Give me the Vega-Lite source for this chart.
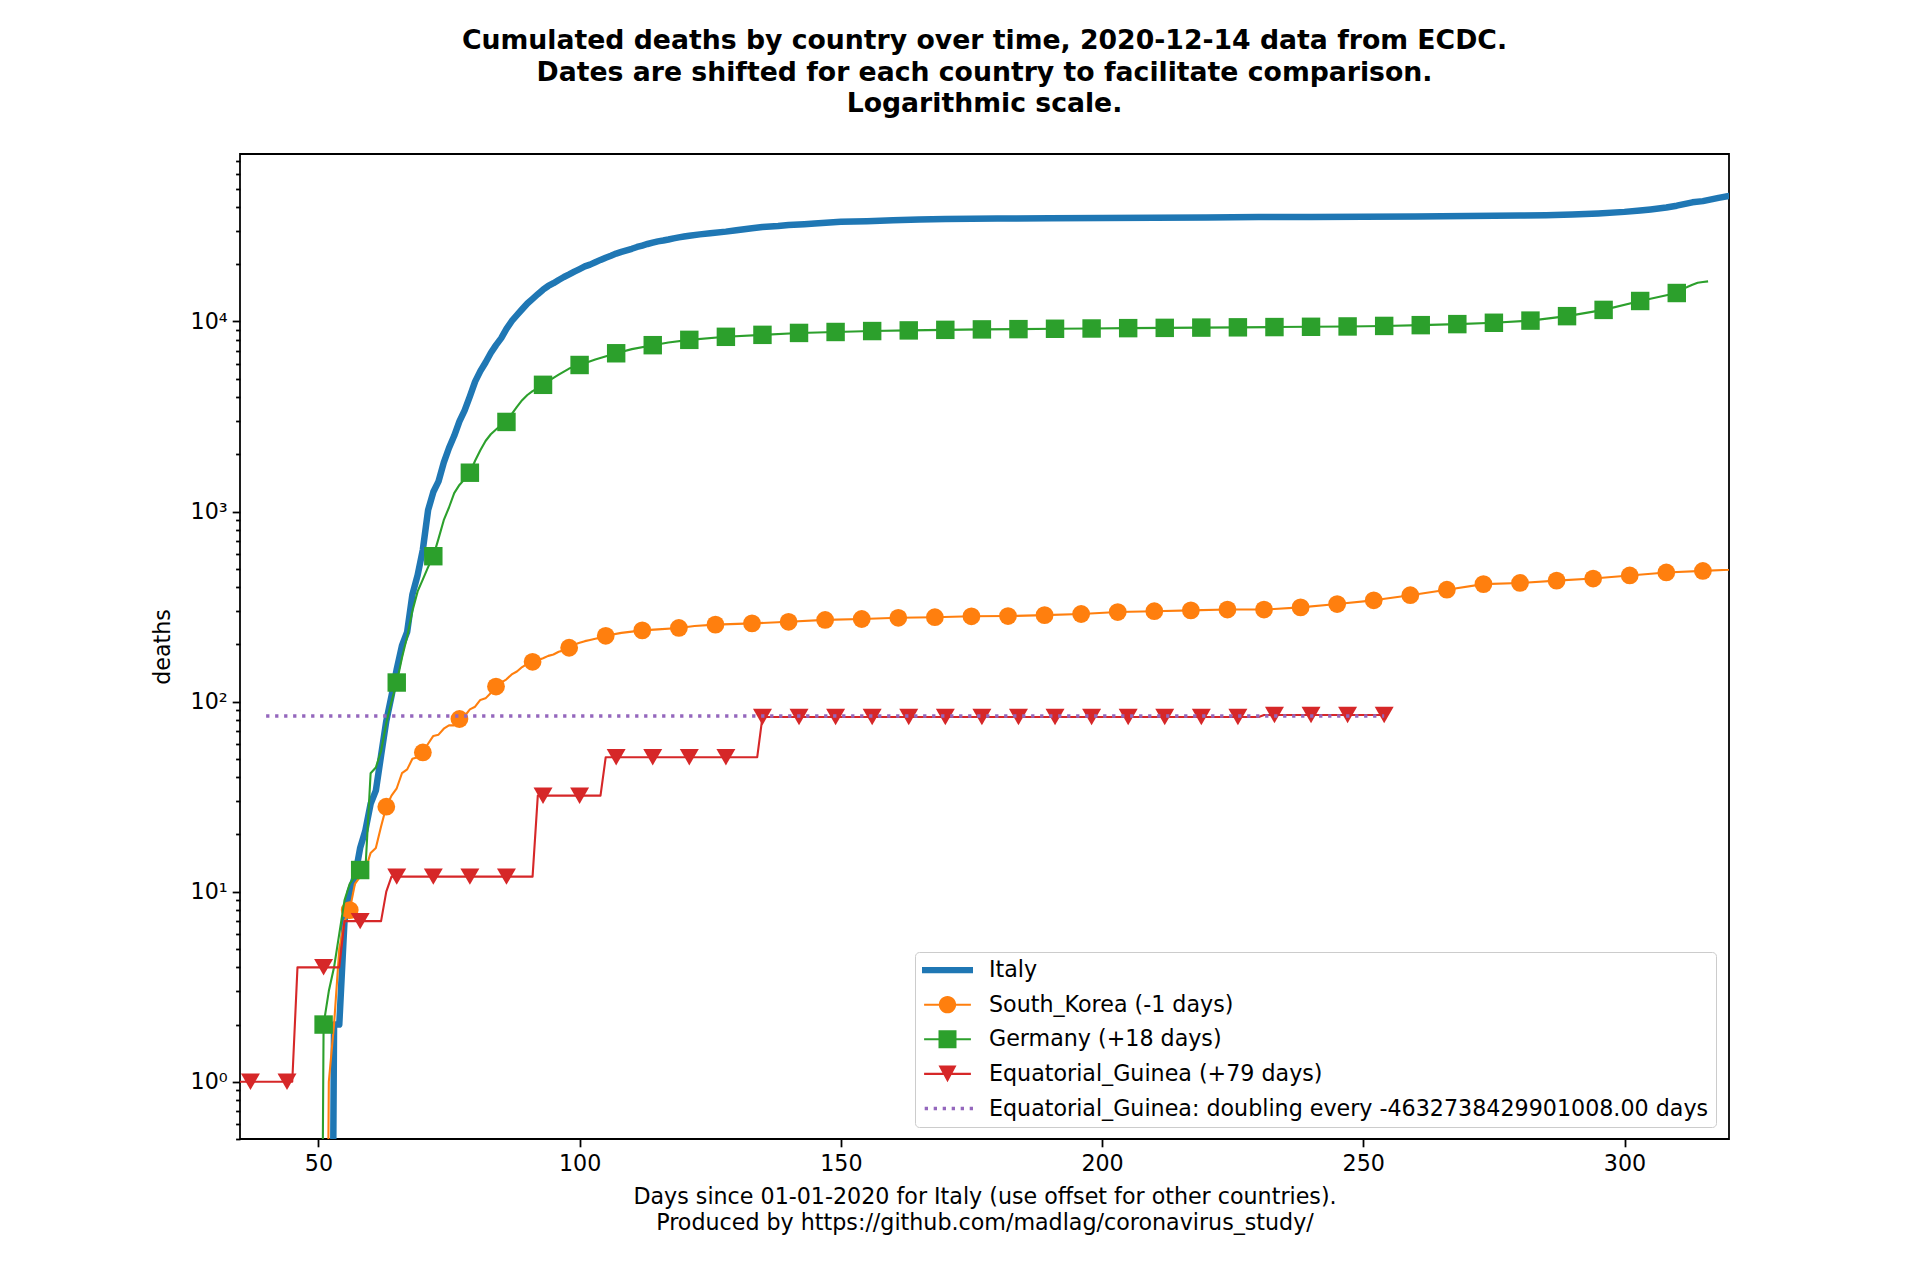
{
  "$schema": "https://vega.github.io/schema/vega-lite/v6.json",
  "description": "Cumulated deaths by country over time, log scale, ECDC data",
  "width": 1489,
  "height": 985,
  "autosize": {"type": "none"},
  "padding": {"left": 240, "top": 154, "right": 191, "bottom": 141},
  "background": "white",
  "title": {
    "text": [
      "Cumulated deaths by country over time, 2020-12-14 data from ECDC.",
      "Dates are shifted for each country to facilitate comparison.",
      "Logarithmic scale."
    ],
    "font": "DejaVu Sans",
    "fontSize": 26.7,
    "fontWeight": "bold",
    "color": "black",
    "anchor": "middle",
    "frame": "group",
    "lineHeight": 31.5,
    "offset": 32
  },
  "data": {
    "values": [
      {"series": "Italy", "day": 52, "deaths": 0.0001},
      {"series": "Italy", "day": 53, "deaths": 2},
      {"series": "Italy", "day": 54, "deaths": 2},
      {"series": "Italy", "day": 55, "deaths": 7},
      {"series": "Italy", "day": 56, "deaths": 10},
      {"series": "Italy", "day": 57, "deaths": 12},
      {"series": "Italy", "day": 58, "deaths": 17},
      {"series": "Italy", "day": 59, "deaths": 21},
      {"series": "Italy", "day": 60, "deaths": 29},
      {"series": "Italy", "day": 61, "deaths": 34},
      {"series": "Italy", "day": 62, "deaths": 52},
      {"series": "Italy", "day": 63, "deaths": 79},
      {"series": "Italy", "day": 64, "deaths": 107},
      {"series": "Italy", "day": 65, "deaths": 148},
      {"series": "Italy", "day": 66, "deaths": 197},
      {"series": "Italy", "day": 67, "deaths": 233},
      {"series": "Italy", "day": 68, "deaths": 366},
      {"series": "Italy", "day": 69, "deaths": 463},
      {"series": "Italy", "day": 70, "deaths": 631},
      {"series": "Italy", "day": 71, "deaths": 1016},
      {"series": "Italy", "day": 72, "deaths": 1266},
      {"series": "Italy", "day": 73, "deaths": 1441},
      {"series": "Italy", "day": 74, "deaths": 1809},
      {"series": "Italy", "day": 75, "deaths": 2158},
      {"series": "Italy", "day": 76, "deaths": 2503},
      {"series": "Italy", "day": 77, "deaths": 2978},
      {"series": "Italy", "day": 78, "deaths": 3405},
      {"series": "Italy", "day": 79, "deaths": 4032},
      {"series": "Italy", "day": 80, "deaths": 4825},
      {"series": "Italy", "day": 81, "deaths": 5476},
      {"series": "Italy", "day": 82, "deaths": 6077},
      {"series": "Italy", "day": 83, "deaths": 6820},
      {"series": "Italy", "day": 84, "deaths": 7503},
      {"series": "Italy", "day": 85, "deaths": 8165},
      {"series": "Italy", "day": 86, "deaths": 9134},
      {"series": "Italy", "day": 87, "deaths": 10023},
      {"series": "Italy", "day": 88, "deaths": 10779},
      {"series": "Italy", "day": 89, "deaths": 11591},
      {"series": "Italy", "day": 90, "deaths": 12428},
      {"series": "Italy", "day": 91, "deaths": 13155},
      {"series": "Italy", "day": 92, "deaths": 13915},
      {"series": "Italy", "day": 93, "deaths": 14681},
      {"series": "Italy", "day": 94, "deaths": 15362},
      {"series": "Italy", "day": 95, "deaths": 15887},
      {"series": "Italy", "day": 96, "deaths": 16523},
      {"series": "Italy", "day": 97, "deaths": 17127},
      {"series": "Italy", "day": 98, "deaths": 17669},
      {"series": "Italy", "day": 99, "deaths": 18279},
      {"series": "Italy", "day": 100, "deaths": 18849},
      {"series": "Italy", "day": 101, "deaths": 19468},
      {"series": "Italy", "day": 102, "deaths": 19899},
      {"series": "Italy", "day": 103, "deaths": 20465},
      {"series": "Italy", "day": 104, "deaths": 21067},
      {"series": "Italy", "day": 105, "deaths": 21645},
      {"series": "Italy", "day": 106, "deaths": 22170},
      {"series": "Italy", "day": 107, "deaths": 22745},
      {"series": "Italy", "day": 108, "deaths": 23227},
      {"series": "Italy", "day": 109, "deaths": 23660},
      {"series": "Italy", "day": 110, "deaths": 24114},
      {"series": "Italy", "day": 111, "deaths": 24648},
      {"series": "Italy", "day": 112, "deaths": 25085},
      {"series": "Italy", "day": 113, "deaths": 25549},
      {"series": "Italy", "day": 114, "deaths": 25969},
      {"series": "Italy", "day": 115, "deaths": 26384},
      {"series": "Italy", "day": 116, "deaths": 26644},
      {"series": "Italy", "day": 117, "deaths": 26977},
      {"series": "Italy", "day": 118, "deaths": 27359},
      {"series": "Italy", "day": 119, "deaths": 27682},
      {"series": "Italy", "day": 120, "deaths": 27967},
      {"series": "Italy", "day": 121, "deaths": 28236},
      {"series": "Italy", "day": 123, "deaths": 28710},
      {"series": "Italy", "day": 125, "deaths": 29079},
      {"series": "Italy", "day": 128, "deaths": 29684},
      {"series": "Italy", "day": 130, "deaths": 30201},
      {"series": "Italy", "day": 133, "deaths": 30911},
      {"series": "Italy", "day": 135, "deaths": 31368},
      {"series": "Italy", "day": 138, "deaths": 31763},
      {"series": "Italy", "day": 140, "deaths": 32169},
      {"series": "Italy", "day": 143, "deaths": 32486},
      {"series": "Italy", "day": 145, "deaths": 32785},
      {"series": "Italy", "day": 150, "deaths": 33415},
      {"series": "Italy", "day": 155, "deaths": 33689},
      {"series": "Italy", "day": 160, "deaths": 34043},
      {"series": "Italy", "day": 165, "deaths": 34405},
      {"series": "Italy", "day": 170, "deaths": 34561},
      {"series": "Italy", "day": 175, "deaths": 34657},
      {"series": "Italy", "day": 180, "deaths": 34744},
      {"series": "Italy", "day": 190, "deaths": 34926},
      {"series": "Italy", "day": 200, "deaths": 35045},
      {"series": "Italy", "day": 210, "deaths": 35132},
      {"series": "Italy", "day": 220, "deaths": 35205},
      {"series": "Italy", "day": 230, "deaths": 35400},
      {"series": "Italy", "day": 240, "deaths": 35472},
      {"series": "Italy", "day": 250, "deaths": 35553},
      {"series": "Italy", "day": 260, "deaths": 35668},
      {"series": "Italy", "day": 270, "deaths": 35851},
      {"series": "Italy", "day": 280, "deaths": 36061},
      {"series": "Italy", "day": 285, "deaths": 36205},
      {"series": "Italy", "day": 290, "deaths": 36474},
      {"series": "Italy", "day": 295, "deaths": 36968},
      {"series": "Italy", "day": 300, "deaths": 37700},
      {"series": "Italy", "day": 303, "deaths": 38320},
      {"series": "Italy", "day": 305, "deaths": 38826},
      {"series": "Italy", "day": 308, "deaths": 39764},
      {"series": "Italy", "day": 310, "deaths": 40638},
      {"series": "Italy", "day": 313, "deaths": 42330},
      {"series": "Italy", "day": 315, "deaths": 42953},
      {"series": "Italy", "day": 318, "deaths": 44683},
      {"series": "Italy", "day": 320, "deaths": 45733},
      {"series": "Italy", "day": 323, "deaths": 47870},
      {"series": "Italy", "day": 325, "deaths": 49261},

      {"series": "South_Korea (-1 days)", "day": 51, "deaths": 0.0001},
      {"series": "South_Korea (-1 days)", "day": 52, "deaths": 1},
      {"series": "South_Korea (-1 days)", "day": 53, "deaths": 2},
      {"series": "South_Korea (-1 days)", "day": 54, "deaths": 5},
      {"series": "South_Korea (-1 days)", "day": 55, "deaths": 7},
      {"series": "South_Korea (-1 days)", "day": 56, "deaths": 8},
      {"series": "South_Korea (-1 days)", "day": 57, "deaths": 11},
      {"series": "South_Korea (-1 days)", "day": 58, "deaths": 12},
      {"series": "South_Korea (-1 days)", "day": 59, "deaths": 13},
      {"series": "South_Korea (-1 days)", "day": 60, "deaths": 16},
      {"series": "South_Korea (-1 days)", "day": 61, "deaths": 17},
      {"series": "South_Korea (-1 days)", "day": 62, "deaths": 22},
      {"series": "South_Korea (-1 days)", "day": 63, "deaths": 28},
      {"series": "South_Korea (-1 days)", "day": 64, "deaths": 32},
      {"series": "South_Korea (-1 days)", "day": 65, "deaths": 35},
      {"series": "South_Korea (-1 days)", "day": 66, "deaths": 42},
      {"series": "South_Korea (-1 days)", "day": 67, "deaths": 44},
      {"series": "South_Korea (-1 days)", "day": 68, "deaths": 50},
      {"series": "South_Korea (-1 days)", "day": 69, "deaths": 51},
      {"series": "South_Korea (-1 days)", "day": 70, "deaths": 54},
      {"series": "South_Korea (-1 days)", "day": 71, "deaths": 60},
      {"series": "South_Korea (-1 days)", "day": 72, "deaths": 66},
      {"series": "South_Korea (-1 days)", "day": 73, "deaths": 67},
      {"series": "South_Korea (-1 days)", "day": 74, "deaths": 72},
      {"series": "South_Korea (-1 days)", "day": 75, "deaths": 75},
      {"series": "South_Korea (-1 days)", "day": 76, "deaths": 75},
      {"series": "South_Korea (-1 days)", "day": 77, "deaths": 81},
      {"series": "South_Korea (-1 days)", "day": 78, "deaths": 84},
      {"series": "South_Korea (-1 days)", "day": 79, "deaths": 91},
      {"series": "South_Korea (-1 days)", "day": 80, "deaths": 94},
      {"series": "South_Korea (-1 days)", "day": 81, "deaths": 102},
      {"series": "South_Korea (-1 days)", "day": 82, "deaths": 104},
      {"series": "South_Korea (-1 days)", "day": 83, "deaths": 111},
      {"series": "South_Korea (-1 days)", "day": 84, "deaths": 120},
      {"series": "South_Korea (-1 days)", "day": 85, "deaths": 126},
      {"series": "South_Korea (-1 days)", "day": 86, "deaths": 131},
      {"series": "South_Korea (-1 days)", "day": 87, "deaths": 139},
      {"series": "South_Korea (-1 days)", "day": 88, "deaths": 144},
      {"series": "South_Korea (-1 days)", "day": 89, "deaths": 152},
      {"series": "South_Korea (-1 days)", "day": 90, "deaths": 158},
      {"series": "South_Korea (-1 days)", "day": 91, "deaths": 162},
      {"series": "South_Korea (-1 days)", "day": 92, "deaths": 165},
      {"series": "South_Korea (-1 days)", "day": 93, "deaths": 169},
      {"series": "South_Korea (-1 days)", "day": 94, "deaths": 174},
      {"series": "South_Korea (-1 days)", "day": 95, "deaths": 177},
      {"series": "South_Korea (-1 days)", "day": 96, "deaths": 183},
      {"series": "South_Korea (-1 days)", "day": 97, "deaths": 186},
      {"series": "South_Korea (-1 days)", "day": 98, "deaths": 192},
      {"series": "South_Korea (-1 days)", "day": 99, "deaths": 200},
      {"series": "South_Korea (-1 days)", "day": 100, "deaths": 204},
      {"series": "South_Korea (-1 days)", "day": 101, "deaths": 208},
      {"series": "South_Korea (-1 days)", "day": 102, "deaths": 211},
      {"series": "South_Korea (-1 days)", "day": 103, "deaths": 214},
      {"series": "South_Korea (-1 days)", "day": 104, "deaths": 217},
      {"series": "South_Korea (-1 days)", "day": 105, "deaths": 222},
      {"series": "South_Korea (-1 days)", "day": 108, "deaths": 230},
      {"series": "South_Korea (-1 days)", "day": 112, "deaths": 237},
      {"series": "South_Korea (-1 days)", "day": 115, "deaths": 240},
      {"series": "South_Korea (-1 days)", "day": 119, "deaths": 244},
      {"series": "South_Korea (-1 days)", "day": 122, "deaths": 250},
      {"series": "South_Korea (-1 days)", "day": 126, "deaths": 254},
      {"series": "South_Korea (-1 days)", "day": 133, "deaths": 258},
      {"series": "South_Korea (-1 days)", "day": 140, "deaths": 263},
      {"series": "South_Korea (-1 days)", "day": 147, "deaths": 269},
      {"series": "South_Korea (-1 days)", "day": 154, "deaths": 272},
      {"series": "South_Korea (-1 days)", "day": 161, "deaths": 276},
      {"series": "South_Korea (-1 days)", "day": 168, "deaths": 278},
      {"series": "South_Korea (-1 days)", "day": 175, "deaths": 281},
      {"series": "South_Korea (-1 days)", "day": 182, "deaths": 282},
      {"series": "South_Korea (-1 days)", "day": 189, "deaths": 285},
      {"series": "South_Korea (-1 days)", "day": 196, "deaths": 289},
      {"series": "South_Korea (-1 days)", "day": 203, "deaths": 296},
      {"series": "South_Korea (-1 days)", "day": 210, "deaths": 299},
      {"series": "South_Korea (-1 days)", "day": 217, "deaths": 302},
      {"series": "South_Korea (-1 days)", "day": 224, "deaths": 305},
      {"series": "South_Korea (-1 days)", "day": 231, "deaths": 305},
      {"series": "South_Korea (-1 days)", "day": 238, "deaths": 313},
      {"series": "South_Korea (-1 days)", "day": 245, "deaths": 326},
      {"series": "South_Korea (-1 days)", "day": 252, "deaths": 341},
      {"series": "South_Korea (-1 days)", "day": 259, "deaths": 363},
      {"series": "South_Korea (-1 days)", "day": 266, "deaths": 388},
      {"series": "South_Korea (-1 days)", "day": 273, "deaths": 415},
      {"series": "South_Korea (-1 days)", "day": 280, "deaths": 421},
      {"series": "South_Korea (-1 days)", "day": 287, "deaths": 433},
      {"series": "South_Korea (-1 days)", "day": 294, "deaths": 444},
      {"series": "South_Korea (-1 days)", "day": 301, "deaths": 461},
      {"series": "South_Korea (-1 days)", "day": 308, "deaths": 478},
      {"series": "South_Korea (-1 days)", "day": 315, "deaths": 487},
      {"series": "South_Korea (-1 days)", "day": 320, "deaths": 494},
      {"series": "South_Korea (-1 days)", "day": 325, "deaths": 510},

      {"series": "Germany (+18 days)", "day": 50, "deaths": 0.0001},
      {"series": "Germany (+18 days)", "day": 51, "deaths": 2},
      {"series": "Germany (+18 days)", "day": 52, "deaths": 3},
      {"series": "Germany (+18 days)", "day": 53, "deaths": 4},
      {"series": "Germany (+18 days)", "day": 54, "deaths": 6},
      {"series": "Germany (+18 days)", "day": 55, "deaths": 9},
      {"series": "Germany (+18 days)", "day": 56, "deaths": 11},
      {"series": "Germany (+18 days)", "day": 57, "deaths": 12},
      {"series": "Germany (+18 days)", "day": 58, "deaths": 13},
      {"series": "Germany (+18 days)", "day": 59, "deaths": 13},
      {"series": "Germany (+18 days)", "day": 60, "deaths": 42},
      {"series": "Germany (+18 days)", "day": 61, "deaths": 45},
      {"series": "Germany (+18 days)", "day": 62, "deaths": 55},
      {"series": "Germany (+18 days)", "day": 63, "deaths": 77},
      {"series": "Germany (+18 days)", "day": 64, "deaths": 100},
      {"series": "Germany (+18 days)", "day": 65, "deaths": 126},
      {"series": "Germany (+18 days)", "day": 66, "deaths": 170},
      {"series": "Germany (+18 days)", "day": 67, "deaths": 220},
      {"series": "Germany (+18 days)", "day": 68, "deaths": 300},
      {"series": "Germany (+18 days)", "day": 69, "deaths": 380},
      {"series": "Germany (+18 days)", "day": 70, "deaths": 440},
      {"series": "Germany (+18 days)", "day": 71, "deaths": 510},
      {"series": "Germany (+18 days)", "day": 72, "deaths": 582},
      {"series": "Germany (+18 days)", "day": 73, "deaths": 720},
      {"series": "Germany (+18 days)", "day": 74, "deaths": 900},
      {"series": "Germany (+18 days)", "day": 75, "deaths": 1050},
      {"series": "Germany (+18 days)", "day": 76, "deaths": 1250},
      {"series": "Germany (+18 days)", "day": 77, "deaths": 1380},
      {"series": "Germany (+18 days)", "day": 78, "deaths": 1480},
      {"series": "Germany (+18 days)", "day": 79, "deaths": 1600},
      {"series": "Germany (+18 days)", "day": 80, "deaths": 1850},
      {"series": "Germany (+18 days)", "day": 81, "deaths": 2100},
      {"series": "Germany (+18 days)", "day": 82, "deaths": 2350},
      {"series": "Germany (+18 days)", "day": 83, "deaths": 2550},
      {"series": "Germany (+18 days)", "day": 84, "deaths": 2700},
      {"series": "Germany (+18 days)", "day": 85, "deaths": 2850},
      {"series": "Germany (+18 days)", "day": 86, "deaths": 2960},
      {"series": "Germany (+18 days)", "day": 87, "deaths": 3250},
      {"series": "Germany (+18 days)", "day": 88, "deaths": 3550},
      {"series": "Germany (+18 days)", "day": 89, "deaths": 3850},
      {"series": "Germany (+18 days)", "day": 90, "deaths": 4100},
      {"series": "Germany (+18 days)", "day": 91, "deaths": 4300},
      {"series": "Germany (+18 days)", "day": 92, "deaths": 4450},
      {"series": "Germany (+18 days)", "day": 93, "deaths": 4640},
      {"series": "Germany (+18 days)", "day": 94, "deaths": 4850},
      {"series": "Germany (+18 days)", "day": 95, "deaths": 5050},
      {"series": "Germany (+18 days)", "day": 96, "deaths": 5250},
      {"series": "Germany (+18 days)", "day": 97, "deaths": 5450},
      {"series": "Germany (+18 days)", "day": 98, "deaths": 5650},
      {"series": "Germany (+18 days)", "day": 99, "deaths": 5780},
      {"series": "Germany (+18 days)", "day": 100, "deaths": 5900},
      {"series": "Germany (+18 days)", "day": 103, "deaths": 6300},
      {"series": "Germany (+18 days)", "day": 107, "deaths": 6800},
      {"series": "Germany (+18 days)", "day": 110, "deaths": 7150},
      {"series": "Germany (+18 days)", "day": 114, "deaths": 7500},
      {"series": "Germany (+18 days)", "day": 117, "deaths": 7750},
      {"series": "Germany (+18 days)", "day": 121, "deaths": 8000},
      {"series": "Germany (+18 days)", "day": 128, "deaths": 8300},
      {"series": "Germany (+18 days)", "day": 135, "deaths": 8500},
      {"series": "Germany (+18 days)", "day": 142, "deaths": 8700},
      {"series": "Germany (+18 days)", "day": 149, "deaths": 8800},
      {"series": "Germany (+18 days)", "day": 156, "deaths": 8900},
      {"series": "Germany (+18 days)", "day": 163, "deaths": 8970},
      {"series": "Germany (+18 days)", "day": 170, "deaths": 9030},
      {"series": "Germany (+18 days)", "day": 177, "deaths": 9080},
      {"series": "Germany (+18 days)", "day": 184, "deaths": 9110},
      {"series": "Germany (+18 days)", "day": 191, "deaths": 9150},
      {"series": "Germany (+18 days)", "day": 198, "deaths": 9180},
      {"series": "Germany (+18 days)", "day": 205, "deaths": 9220},
      {"series": "Germany (+18 days)", "day": 212, "deaths": 9250},
      {"series": "Germany (+18 days)", "day": 219, "deaths": 9280},
      {"series": "Germany (+18 days)", "day": 226, "deaths": 9310},
      {"series": "Germany (+18 days)", "day": 233, "deaths": 9340},
      {"series": "Germany (+18 days)", "day": 240, "deaths": 9370},
      {"series": "Germany (+18 days)", "day": 247, "deaths": 9410},
      {"series": "Germany (+18 days)", "day": 254, "deaths": 9470},
      {"series": "Germany (+18 days)", "day": 261, "deaths": 9560},
      {"series": "Germany (+18 days)", "day": 268, "deaths": 9680},
      {"series": "Germany (+18 days)", "day": 275, "deaths": 9840},
      {"series": "Germany (+18 days)", "day": 282, "deaths": 10100},
      {"series": "Germany (+18 days)", "day": 289, "deaths": 10660},
      {"series": "Germany (+18 days)", "day": 296, "deaths": 11500},
      {"series": "Germany (+18 days)", "day": 303, "deaths": 12810},
      {"series": "Germany (+18 days)", "day": 310, "deaths": 14110},
      {"series": "Germany (+18 days)", "day": 311, "deaths": 14770},
      {"series": "Germany (+18 days)", "day": 312, "deaths": 15160},
      {"series": "Germany (+18 days)", "day": 313, "deaths": 15590},
      {"series": "Germany (+18 days)", "day": 314, "deaths": 15970},
      {"series": "Germany (+18 days)", "day": 315, "deaths": 16120},
      {"series": "Germany (+18 days)", "day": 316, "deaths": 16250},

      {"series": "Equatorial_Guinea (+79 days)", "day": 33, "deaths": 1},
      {"series": "Equatorial_Guinea (+79 days)", "day": 37, "deaths": 1},
      {"series": "Equatorial_Guinea (+79 days)", "day": 44, "deaths": 1},
      {"series": "Equatorial_Guinea (+79 days)", "day": 45, "deaths": 1},
      {"series": "Equatorial_Guinea (+79 days)", "day": 46, "deaths": 4},
      {"series": "Equatorial_Guinea (+79 days)", "day": 51, "deaths": 4},
      {"series": "Equatorial_Guinea (+79 days)", "day": 54, "deaths": 4},
      {"series": "Equatorial_Guinea (+79 days)", "day": 55, "deaths": 7},
      {"series": "Equatorial_Guinea (+79 days)", "day": 58, "deaths": 7},
      {"series": "Equatorial_Guinea (+79 days)", "day": 62, "deaths": 7},
      {"series": "Equatorial_Guinea (+79 days)", "day": 63, "deaths": 10},
      {"series": "Equatorial_Guinea (+79 days)", "day": 64, "deaths": 12},
      {"series": "Equatorial_Guinea (+79 days)", "day": 65, "deaths": 12},
      {"series": "Equatorial_Guinea (+79 days)", "day": 72, "deaths": 12},
      {"series": "Equatorial_Guinea (+79 days)", "day": 79, "deaths": 12},
      {"series": "Equatorial_Guinea (+79 days)", "day": 86, "deaths": 12},
      {"series": "Equatorial_Guinea (+79 days)", "day": 91, "deaths": 12},
      {"series": "Equatorial_Guinea (+79 days)", "day": 92, "deaths": 32},
      {"series": "Equatorial_Guinea (+79 days)", "day": 93, "deaths": 32},
      {"series": "Equatorial_Guinea (+79 days)", "day": 100, "deaths": 32},
      {"series": "Equatorial_Guinea (+79 days)", "day": 104, "deaths": 32},
      {"series": "Equatorial_Guinea (+79 days)", "day": 105, "deaths": 51},
      {"series": "Equatorial_Guinea (+79 days)", "day": 107, "deaths": 51},
      {"series": "Equatorial_Guinea (+79 days)", "day": 114, "deaths": 51},
      {"series": "Equatorial_Guinea (+79 days)", "day": 121, "deaths": 51},
      {"series": "Equatorial_Guinea (+79 days)", "day": 128, "deaths": 51},
      {"series": "Equatorial_Guinea (+79 days)", "day": 134, "deaths": 51},
      {"series": "Equatorial_Guinea (+79 days)", "day": 135, "deaths": 83},
      {"series": "Equatorial_Guinea (+79 days)", "day": 142, "deaths": 83},
      {"series": "Equatorial_Guinea (+79 days)", "day": 149, "deaths": 83},
      {"series": "Equatorial_Guinea (+79 days)", "day": 156, "deaths": 83},
      {"series": "Equatorial_Guinea (+79 days)", "day": 163, "deaths": 83},
      {"series": "Equatorial_Guinea (+79 days)", "day": 170, "deaths": 83},
      {"series": "Equatorial_Guinea (+79 days)", "day": 177, "deaths": 83},
      {"series": "Equatorial_Guinea (+79 days)", "day": 184, "deaths": 83},
      {"series": "Equatorial_Guinea (+79 days)", "day": 191, "deaths": 83},
      {"series": "Equatorial_Guinea (+79 days)", "day": 198, "deaths": 83},
      {"series": "Equatorial_Guinea (+79 days)", "day": 205, "deaths": 83},
      {"series": "Equatorial_Guinea (+79 days)", "day": 212, "deaths": 83},
      {"series": "Equatorial_Guinea (+79 days)", "day": 219, "deaths": 83},
      {"series": "Equatorial_Guinea (+79 days)", "day": 226, "deaths": 83},
      {"series": "Equatorial_Guinea (+79 days)", "day": 230, "deaths": 83},
      {"series": "Equatorial_Guinea (+79 days)", "day": 231, "deaths": 85},
      {"series": "Equatorial_Guinea (+79 days)", "day": 233, "deaths": 85},
      {"series": "Equatorial_Guinea (+79 days)", "day": 240, "deaths": 85},
      {"series": "Equatorial_Guinea (+79 days)", "day": 247, "deaths": 85},
      {"series": "Equatorial_Guinea (+79 days)", "day": 254, "deaths": 85},

      {"series": "Equatorial_Guinea: doubling every -4632738429901008.00 days", "day": 40, "deaths": 84},
      {"series": "Equatorial_Guinea: doubling every -4632738429901008.00 days", "day": 254, "deaths": 84}
    ]
  },
  "encoding": {
    "x": {
      "field": "day",
      "type": "quantitative",
      "scale": {"domain": [35, 320], "nice": false, "zero": false},
      "axis": {
        "values": [50, 100, 150, 200, 250, 300],
        "format": "d",
        "title": [
          "Days since 01-01-2020 for Italy (use offset for other countries).",
          "Produced by https://github.com/madlag/coronavirus_study/"
        ],
        "titleLineHeight": 26.5,
        "titlePadding": 10,
        "labelPadding": 6
      }
    },
    "y": {
      "field": "deaths",
      "type": "quantitative",
      "scale": {"type": "log", "domain": [0.5, 76000], "nice": false},
      "axis": {
        "title": "deaths",
        "titlePadding": 16,
        "labelPadding": 5,
        "values": [0.5, 0.6, 0.7, 0.8, 0.9, 1, 2, 3, 4, 5, 6, 7, 8, 9, 10, 20, 30, 40, 50, 60, 70, 80, 90, 100, 200, 300, 400, 500, 600, 700, 800, 900, 1000, 2000, 3000, 4000, 5000, 6000, 7000, 8000, 9000, 10000, 20000, 30000, 40000, 50000, 60000, 70000],
        "labelExpr": "datum.value == 1 ? '10⁰' : datum.value == 10 ? '10¹' : datum.value == 100 ? '10²' : datum.value == 1000 ? '10³' : datum.value == 10000 ? '10⁴' : ''",
        "tickSize": {
          "condition": {"test": "datum.value == 1 || datum.value == 10 || datum.value == 100 || datum.value == 1000 || datum.value == 10000", "value": 7.8},
          "value": 4.4
        }
      }
    },
    "color": {
      "field": "series",
      "type": "nominal",
      "scale": {
        "domain": [
          "Italy",
          "South_Korea (-1 days)",
          "Germany (+18 days)",
          "Equatorial_Guinea (+79 days)",
          "Equatorial_Guinea: doubling every -4632738429901008.00 days"
        ],
        "range": ["#1f77b4", "#ff7f0e", "#2ca02c", "#d62728", "#9467bd"]
      },
      "legend": {
        "title": null,
        "orient": "none",
        "legendX": 675,
        "legendY": 798,
        "padding": 7,
        "symbolSize": 484,
        "symbolOffset": 14.4,
        "labelOffset": 30.4,
        "rowPadding": 11.6,
        "labelLimit": 1000,
        "labelFont": "DejaVu Sans",
        "labelFontSize": 22.2,
        "labelColor": "black",
        "cornerRadius": 4,
        "strokeColor": "#cccccc",
        "fillColor": "rgba(255,255,255,0.8)",
        "encode": {
          "symbols": {
            "update": {
              "shape": {"signal": "datum.value == 'Italy' ? 'M-2.318,-0.286H2.318V0.286H-2.318Z' : datum.value == 'South_Korea (-1 days)' ? 'M-2.127,-0.095H2.127V0.095H-2.127Z M0.786,0A0.786,0.786,0,1,1,-0.786,0A0.786,0.786,0,1,1,0.786,0Z' : datum.value == 'Germany (+18 days)' ? 'M-2.127,-0.095H2.127V0.095H-2.127Z M-0.818,-0.818H0.818V0.818H-0.818Z' : datum.value == 'Equatorial_Guinea (+79 days)' ? 'M-2.127,-0.095H2.127V0.095H-2.127Z M-0.818,-0.755H0.818L0,0.755Z' : 'M-2.073,-0.15H-1.773V0.15H-2.073Z M-1.255,-0.15H-0.955V0.15H-1.255Z M-0.437,-0.15H-0.137V0.15H-0.437Z M0.381,-0.15H0.681V0.15H0.381Z M1.199,-0.15H1.499V0.15H1.199Z M2.017,-0.15H2.317V0.15H2.017Z'"},
              "fill": {"scale": "color", "field": "value"},
              "stroke": {"value": "transparent"},
              "strokeWidth": {"value": 0},
              "opacity": {"value": 1},
              "size": {"value": 484}
            }
          }
        }
      }
    }
  },
  "layer": [
    {
      "transform": [{"filter": "datum.series == 'Italy'"}],
      "mark": {"type": "line", "strokeWidth": 6.5, "strokeJoin": "round", "clip": true}
    },
    {
      "transform": [{"filter": "datum.series == 'South_Korea (-1 days)'"}],
      "mark": {"type": "line", "strokeWidth": 2.1, "strokeJoin": "round", "clip": true}
    },
    {
      "transform": [{"filter": "datum.series == 'South_Korea (-1 days)' && datum.day % 7 == 0"}],
      "mark": {"type": "point", "shape": "circle", "filled": true, "opacity": 1, "size": 316, "strokeWidth": 0, "clip": true}
    },
    {
      "transform": [{"filter": "datum.series == 'Germany (+18 days)'"}],
      "mark": {"type": "line", "strokeWidth": 2.1, "strokeJoin": "round", "clip": true}
    },
    {
      "transform": [{"filter": "datum.series == 'Germany (+18 days)' && datum.day % 7 == 2"}],
      "mark": {"type": "point", "shape": "square", "filled": true, "opacity": 1, "size": 340, "strokeWidth": 0, "clip": true}
    },
    {
      "transform": [{"filter": "datum.series == 'Equatorial_Guinea (+79 days)'"}],
      "mark": {"type": "line", "strokeWidth": 2.1, "strokeJoin": "round", "clip": true}
    },
    {
      "transform": [{"filter": "datum.series == 'Equatorial_Guinea (+79 days)' && datum.day % 7 == 2"}],
      "mark": {"type": "point", "shape": "triangle-down", "filled": true, "opacity": 1, "size": 360, "strokeWidth": 0, "clip": true}
    },
    {
      "transform": [{"filter": "datum.series == 'Equatorial_Guinea: doubling every -4632738429901008.00 days'"}],
      "mark": {"type": "line", "strokeWidth": 3.3, "strokeDash": [3.3, 5.7], "strokeCap": "butt", "clip": true}
    }
  ],
  "config": {
    "font": "DejaVu Sans",
    "view": {"stroke": "black", "strokeWidth": 1.78},
    "axis": {
      "domain": false,
      "grid": false,
      "labelFont": "DejaVu Sans",
      "labelFontSize": 22.2,
      "labelColor": "black",
      "labelFlush": false,
      "labelOverlap": false,
      "tickColor": "black",
      "tickWidth": 1.78,
      "tickSize": 7.8,
      "titleFont": "DejaVu Sans",
      "titleFontSize": 22.2,
      "titleFontWeight": "normal",
      "titleColor": "black"
    }
  }
}
